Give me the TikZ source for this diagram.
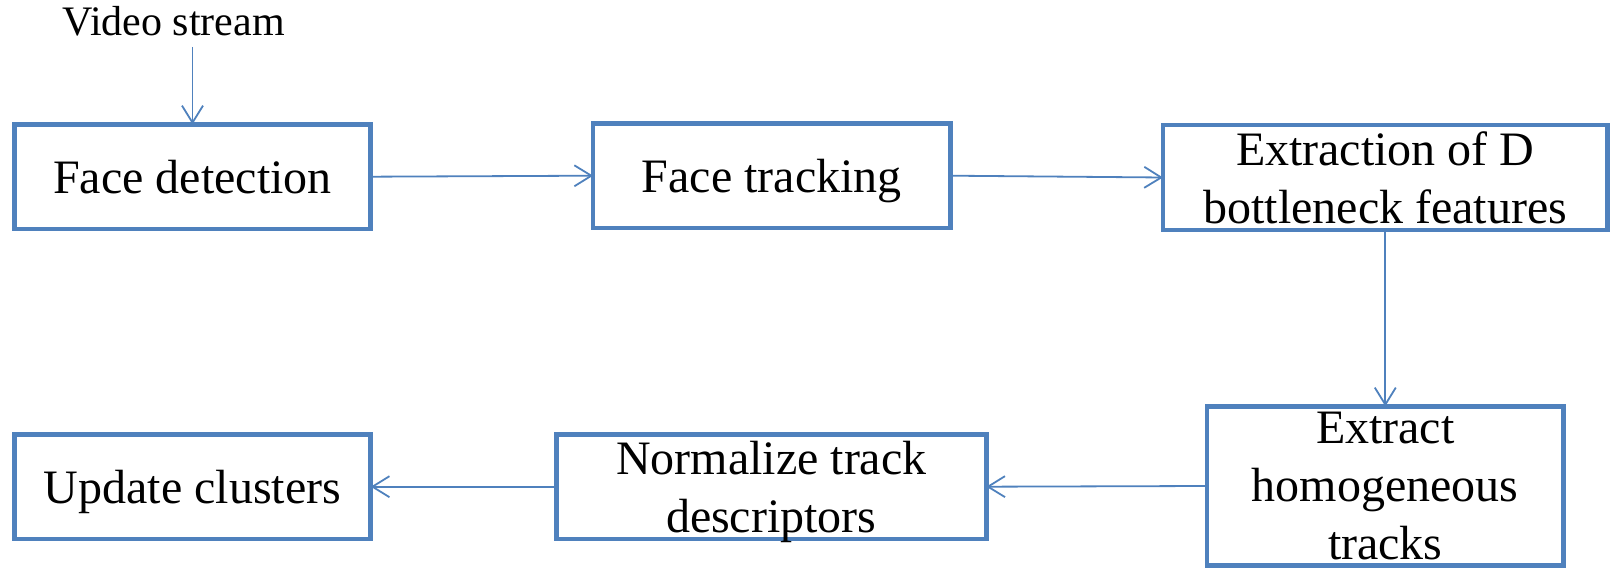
\documentclass[tikz,border=0pt]{standalone}
\usepackage{fontspec}
\setmainfont{Liberation Serif}
\usetikzlibrary{arrows.meta}
\definecolor{lineblue}{RGB}{79,129,189}
\begin{document}
\begin{tikzpicture}[x=1pt,y=1pt,
  stagebox/.style={draw=lineblue, line width=4.8pt, fill=white, inner sep=0pt, outer sep=0pt,
    align=center, text depth=0pt, font=\fontsize{48}{58}\selectfont},
  flowarrow/.style={draw=lineblue, line width=1.8pt,
    -{Straight Barb[length=17pt,width=21pt,line width=1.8pt]}}
]
\useasboundingbox (0,0) rectangle (1610,568);
\node[anchor=base, inner sep=0pt, font=\fontsize{42}{50}\selectfont] (vs) at (173.5,532) {Video stream};
\coordinate (vsin) at (192.5,521);

\node[stagebox, minimum width=356.5pt, minimum height=104.7pt] (det) at (192.5,391.3) {Face detection};
\node[stagebox, minimum width=357.5pt, minimum height=104.5pt] (trk) at (771.8,392.3) {Face tracking};
\node[stagebox, minimum width=444.7pt, minimum height=105pt] (ext) at (1385.3,390.5) {Extraction of D\\bottleneck features};
\node[stagebox, minimum width=356.7pt, minimum height=159.4pt] (hom) at (1385.3,82) {Extract\\homogeneous\\tracks};
\node[stagebox, minimum width=430pt, minimum height=104.7pt] (nor) at (771.3,81.3) {Normalize track\\descriptors};
\node[stagebox, minimum width=356.5pt, minimum height=104.7pt] (upd) at (192.5,81.3) {Update clusters};

\draw[flowarrow] (vsin) -- (det.north);
\draw[flowarrow] (det.east) -- (trk.west);
\draw[flowarrow] (trk.east) -- (ext.west);
\draw[flowarrow] (ext.south) -- (hom.north);
\draw[flowarrow] (hom.west) -- (nor.east);
\draw[flowarrow] (nor.west) -- (upd.east);
\end{tikzpicture}
\end{document}
